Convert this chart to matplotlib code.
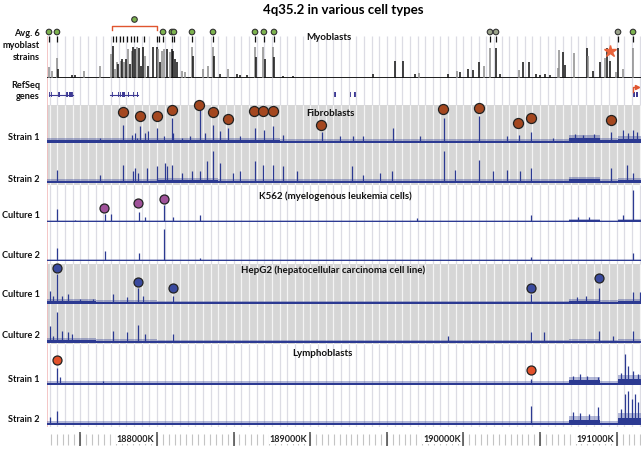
import matplotlib
matplotlib.use('Agg')
import matplotlib.pyplot as plt
import numpy as np

plt.rcParams['font.family'] = ['Lato', 'DejaVu Sans']

#%% data (positions in kb on chr4, signal in track units)
X0, X1 = 187283, 191158
seg_edges = [187283, 187600, 188000, 188400, 188800, 189200, 189600,
             190000, 190400, 190690, 190890, 191010, 191160]

# myoblasts (avg of 6 strains): position, signal, dark bar?
myo_peaks = [(187298, 11, 0), (187314, 7, 0), (187346, 20, 0), (187357, 9, 1), (187444, 3, 1),
             (187466, 3, 1), (187526, 7, 0), (187629, 12, 0), (187700, 24, 0), (187712, 32, 1),
             (187727, 9, 0), (187738, 16, 0), (187748, 14, 1), (187764, 17, 0), (187774, 19, 1),
             (187785, 16, 0), (187798, 19, 1), (187813, 29, 0), (187824, 14, 1), (187836, 27, 0),
             (187846, 31, 1), (187857, 29, 1), (187872, 31, 0), (187885, 30, 1), (187894, 12, 1),
             (187911, 31, 1), (187924, 22, 0), (187944, 12, 1), (187976, 31, 1), (187999, 31, 1),
             (188005, 29, 0), (188020, 16, 1), (188035, 27, 0), (188048, 29, 0), (188064, 29, 1),
             (188085, 26, 0), (188096, 29, 1), (188107, 27, 1), (188118, 19, 1), (188129, 16, 1),
             (188162, 7, 0), (188183, 6, 0), (188227, 31, 0), (188233, 22, 1), (188303, 9, 0),
             (188335, 12, 0), (188368, 31, 0), (188374, 22, 1), (188411, 4, 1), (188466, 9, 0),
             (188520, 4, 1), (188542, 3, 1), (188586, 3, 1), (188640, 31, 0), (188646, 21, 1),
             (188694, 31, 0), (188705, 19, 1), (188759, 31, 0), (188766, 21, 1), (188824, 2, 1),
             (188890, 2, 1), (189411, 4, 1), (189553, 17, 1), (189607, 17, 1), (189683, 4, 1),
             (189712, 5, 0), (189901, 4, 1), (189955, 7, 0), (189977, 6, 1), (190031, 9, 1),
             (190064, 8, 1), (190103, 16, 1), (190136, 12, 0), (190173, 30, 0), (190212, 30, 1),
             (190238, 4, 1), (190362, 8, 0), (190390, 16, 1), (190429, 16, 1), (190471, 4, 1),
             (190499, 3, 1), (190531, 4, 1), (190564, 3, 1), (190614, 10, 0), (190625, 28, 0),
             (190651, 26, 1), (190662, 13, 1), (190723, 25, 0), (190803, 30, 1), (190814, 22, 0),
             (190843, 7, 1), (190890, 16, 1), (190923, 20, 0), (190934, 30, 1), (190955, 17, 1),
             (190995, 6, 0), (191010, 30, 1), (191042, 9, 0), (191104, 30, 0)]
myo_marks = [187296, 187348, 188040, 188098, 188111, 188229, 188366, 188640, 188698, 188764,
             190173, 190212, 191008, 191106]
myo_marks_grey = [190173, 190212, 191008]
bracket = (187707, 188000)
bracket_ticks = [187713, 187733, 187759, 187779, 187805, 187831, 187851, 187870, 187916,
                 188000, 188013]
star_pos = 190955

# RefSeq genes: (start, end) lines and exon blocks (start, width)
gene_lines = [(187298, 187453), (187694, 187878)]
gene_exons = [(187298, 20), (187346, 20), (187400, 22), (187428, 25), (187694, 3), (187708, 3),
              (187748, 18), (187770, 22), (187813, 3), (187846, 3), (187872, 3),
              (189158, 8), (189255, 14), (189287, 18), (191101, 16), (191125, 15)]
tss_arrow = 191104

# fibroblasts
fib1_peaks = [(187346, 3), (187629, 5), (187781, 18), (187835, 8), (187857, 10), (187868, 5),
              (187890, 17), (187922, 10), (187944, 12), (187999, 15), (188046, 7), (188096, 25),
              (188107, 10), (188162, 5), (188216, 7), (188281, 35), (188314, 10), (188368, 18),
              (188411, 12), (188466, 15), (188542, 7), (188640, 15), (188700, 13), (188759, 17),
              (188824, 8), (189075, 11), (189194, 7), (189281, 7), (189346, 7), (189542, 15),
              (189716, 7), (189873, 25), (190103, 27), (190282, 7), (190362, 8), (190438, 11),
              (190586, 5), (190730, 9), (190780, 8), (190850, 9), (190960, 11), (191042, 13),
              (191075, 10), (191107, 13), (191130, 11)]
fib2_peaks = [(187346, 13), (187629, 8), (187781, 18), (187846, 12), (187857, 15), (187879, 10),
              (187933, 15), (187999, 17), (188053, 20), (188064, 17), (188096, 18), (188162, 10),
              (188227, 12), (188281, 12), (188325, 22), (188368, 32), (188411, 20), (188498, 10),
              (188542, 12), (188640, 22), (188694, 18), (188759, 18), (188824, 17), (188912, 12),
              (189271, 17), (189346, 8), (189455, 10), (189531, 12), (189873, 32), (189944, 13),
              (190103, 23), (190194, 12), (190282, 13), (190368, 12), (190438, 15), (190960, 15),
              (191064, 18), (191107, 10)]
fib_marks = [(187779, 31), (187890, 27), (188000, 27), (188098, 33), (188274, 38), (188366, 31),
             (188464, 24), (188633, 32), (188692, 32), (188757, 32), (189070, 18), (189866, 34),
             (190101, 35), (190355, 20), (190440, 25), (190962, 23)]
fib1_floor = [5, 5, 5, 5, 4, 4, 4, 4, 4, 8, 5, 7]
fib2_floor = [4, 4, 5, 4, 4, 4, 4, 4, 4, 6, 4, 5]

# K562
k1_peaks = [(187350, 13), (187466, 2), (187661, 8), (187699, 8), (187885, 10), (187922, 5),
            (188048, 17), (188107, 5), (188281, 7), (189695, 4), (190438, 7), (190750, 5),
            (190820, 5), (191042, 7), (191107, 32)]
k2_peaks = [(187350, 13), (187661, 10), (187885, 8), (188048, 32), (188281, 3), (190438, 4),
            (191107, 8)]
k_marks = [(187652, 14), (187877, 19), (188046, 23)]
k1_floor = [2, 2, 2, 2, 2, 2, 2, 2, 2, 3, 2, 3]
k2_floor = [2, 2, 2, 2, 2, 2, 2, 2, 2, 2, 2, 2]

# HepG2
h1_peaks = [(187303, 13), (187324, 8), (187350, 30), (187379, 8), (187422, 10), (187498, 5),
            (187585, 5), (187715, 10), (187803, 7), (187879, 16), (187911, 8), (188103, 8),
            (190438, 10), (190740, 7), (190800, 8), (190886, 16), (191107, 12), (191151, 12)]
h2_peaks = [(187303, 17), (187324, 7), (187350, 31), (187379, 12), (187422, 11), (187444, 9),
            (187715, 12), (187803, 11), (187879, 18), (187922, 9), (188103, 9), (189901, 7),
            (190438, 11), (190525, 11), (190886, 12), (190977, 7), (191107, 12)]
h_marks = [(187348, 36), (187877, 22), (188105, 16), (190440, 16), (190884, 26)]
h1_floor = [5, 4, 3, 3, 3, 3, 3, 3, 3, 5, 4, 5]
h2_floor = [5, 4, 3, 3, 3, 3, 3, 3, 3, 4, 3, 4]

# lymphoblasts
l1_peaks = [(187350, 17), (187368, 8), (187650, 4), (190438, 6), (190715, 9), (190760, 11),
            (190803, 9), (190879, 8), (191030, 12), (191053, 31), (191075, 19), (191107, 14),
            (191140, 11)]
l2_peaks = [(187303, 8), (187350, 14), (190438, 19), (190715, 13), (190760, 12), (190820, 11),
            (190879, 18), (191030, 16), (191053, 31), (191075, 34), (191097, 26), (191118, 31),
            (191140, 23)]
l_marks = [(187348, 25), (190440, 15)]
l1_floor = [4, 4, 4, 4, 4, 4, 4, 4, 4, 8, 4, 10]
l2_floor = [4, 4, 4, 4, 4, 4, 4, 4, 4, 9, 4, 12]

#%% figure
W, H = 643, 452
BLUE = '#2c3a92'
GREY_BG = '#d6d6d6'
fig = plt.figure(figsize=(W/100, H/100), dpi=100)

def px_axes(left, top, right, bottom):
    ax = fig.add_axes([left/W, 1-bottom/H, (right-left)/W, (bottom-top)/H])
    ax.set_xlim(X0, X1)
    ax.axis('off')
    ax.patch.set_alpha(0)
    return ax

def track(base, span=40):
    ax = px_axes(47, base-span, 641, base)
    ax.set_ylim(0, span)
    return ax

def ftext(x, y, s, **kw):
    fig.text(x/W, 1-y/H, s, fontweight='bold', **kw)

# background with sections and grid
bg = px_axes(47, 37, 641, 428)
bg.set_ylim(428, 37)
grid_x = np.arange(187300, X1, 50)
sections = [(37, 106, False), (106, 186, True), (186, 265, False), (265, 345, True), (345, 428, False)]
for top, bot, grey in sections:
    if grey:
        bg.axhspan(top, bot, color=GREY_BG, lw=0)
    bg.vlines(grid_x, top, bot, color='#f4f4f4' if grey else '#dcdce4', lw=0.9)
bg.axvline(X0, color='#f2bcbc', lw=1.2)

# myoblast track
ax = track(79, 62)
mp, ms, md = np.array(myo_peaks).T
ax.fill_between([X0, X1], 0, 1.2, color='#222222', lw=0)
ax.vlines(mp, 0, ms, colors=np.where(md > 0, '#111111', '#8c8c8c'), lw=1.1)
ax.vlines(myo_marks, 36, 42, color='#111111', lw=0.9)
ax.vlines(bracket_ticks, 36, 42, color='#111111', lw=0.9)
mcol = ['#9aa28a' if m in myo_marks_grey else '#7cb24e' for m in myo_marks]
ax.scatter(myo_marks, [46]*len(myo_marks), s=16, c=mcol, edgecolors='#333333',
           linewidths=0.8, clip_on=False, zorder=3)
ax.plot([bracket[0], bracket[0], bracket[1], bracket[1]], [48, 52, 52, 48], color='#e0552f', lw=1.0,
        clip_on=False)
ax.scatter([np.mean(bracket)], [59], s=16, c='#7cb24e', edgecolors='#333333', linewidths=0.8,
           clip_on=False, zorder=3)
ax.plot(star_pos, 27, marker='*', ms=9, color='#e8643c', mec='#e8643c', clip_on=False)

# gene track
for s, e in gene_lines:
    bg.plot([s, e], [96, 96], color='#3d3a94', lw=0.8)
bg.broken_barh(gene_exons, (93.5, 5), facecolors='#3d3a94')
bg.plot([tss_arrow, tss_arrow, tss_arrow + 25], [93, 88.5, 88.5], color='#e0552f', lw=1.0)
bg.plot(tss_arrow + 27, 88.5, marker='>', ms=3, color='#e0552f')

def signal(base, peaks, floor, marks=None, mcolor=None, msize=45):
    ax = track(base)
    y = np.r_[floor, floor[-1]]
    ax.fill_between(seg_edges, 0, y, step='post', color=BLUE, alpha=0.35, lw=0)
    ax.fill_between(seg_edges, 0, y*0.6, step='post', color=BLUE, lw=0)
    pos, sig = np.array(peaks).T
    ax.vlines(pos, 0, sig, color=BLUE, lw=0.9)
    if marks:
        mx, my = np.array(marks).T
        ax.scatter(mx, my, s=msize, c=mcolor, edgecolors='#222222', linewidths=0.9,
                   clip_on=False, zorder=3)
    return ax

signal(144, fib1_peaks, fib1_floor, fib_marks, '#a4471f', 52)
signal(184, fib2_peaks, fib2_floor)
signal(223, k1_peaks, k1_floor, k_marks, '#a0529a', 42)
signal(262, k2_peaks, k2_floor)
signal(305, h1_peaks, h1_floor, h_marks, '#3a4a9e', 42)
signal(344, h2_peaks, h2_floor)
signal(386, l1_peaks, l1_floor, l_marks, '#e2512b', 42)
signal(426, l2_peaks, l2_floor)

# coordinate axis
axx = px_axes(47, 430, 641, 450)
axx.set_ylim(450, 430)
major = np.arange(187500, X1, 500)
minor = 189500 + np.arange(-57, 44) * 500/13
minor = minor[(minor > X0) & (minor < X1)]
axx.vlines(minor, 435, 446, color='#c4c4c4', lw=0.8)
axx.vlines(major, 433, 447, color='#4a4a4a', lw=1.1)
for m in major[major % 1000 == 0]:
    axx.annotate(f'{m}K', (m, 440), xytext=(-2, 0), textcoords='offset points', ha='right',
                 va='center', fontsize=6.5, fontweight='bold', color='#222222',
                 bbox=dict(fc='white', ec='none', pad=0.6))

# labels
ftext(343, 10, '4q35.2 in various cell types', fontsize=9.5, ha='center', va='center')
side = [(33, 'Avg. 6'), (45, 'myoblast'), (57, 'strains'), (86, 'RefSeq'), (97, 'genes'),
        (138, 'Strain 1'), (179, 'Strain 2'), (216, 'Culture 1'), (256, 'Culture 2'),
        (295, 'Culture 1'), (336, 'Culture 2'), (380, 'Strain 1'), (420, 'Strain 2')]
for y, s in side:
    ftext(40, y, s, fontsize=6.6, ha='right', va='center', color='#111111')
heads = [(329, 37, 'Myoblasts'), (330, 113, 'Fibroblasts'),
         (335, 196, 'K562 (myelogenous leukemia cells)'),
         (333, 270, 'HepG2 (hepatocellular carcinoma cell line)'), (322, 353, 'Lymphoblasts')]
for x, y, s in heads:
    ftext(x, y, s, fontsize=7, ha='center', va='center', color='#111111')

plt.savefig('out.png', dpi=100)
